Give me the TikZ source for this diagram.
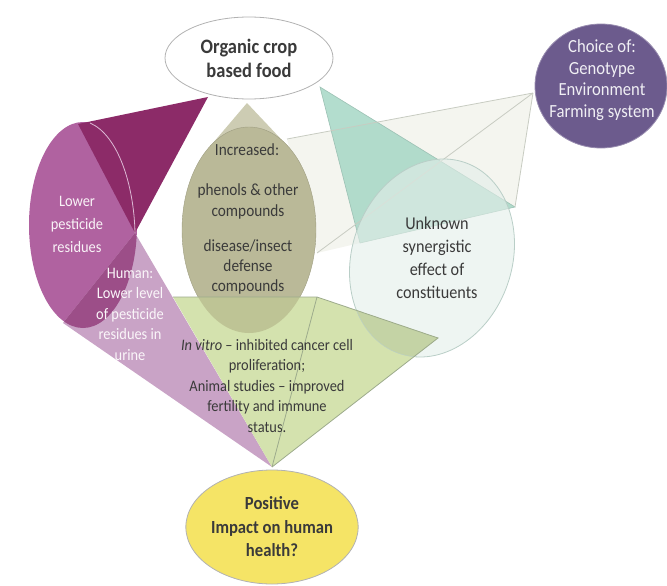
\documentclass[tikz,border=0pt]{standalone}
\usepackage{fontspec}
\setmainfont{Carlito}[FakeStretch=0.9]
\usepackage{xcolor}
\usepackage{tikz}
\usetikzlibrary{shapes.geometric}

\definecolor{magmid}{HTML}{B062A0}
\definecolor{magdark}{HTML}{8C2B68}
\definecolor{maglight}{HTML}{C9A3C6}
\definecolor{magover}{HTML}{9C4E88}
\definecolor{olivefill}{HTML}{BAB998}
\definecolor{olivelight}{HTML}{CDCCB3}
\definecolor{oliveleaf}{HTML}{BEC495}
\definecolor{tealfill}{HTML}{A6D7C5}
\definecolor{unkfill}{HTML}{E3EEE9}
\definecolor{unkline}{HTML}{B9CEC7}
\definecolor{unkleaf}{HTML}{C4D3A5}
\definecolor{palefill}{HTML}{F4F5EF}
\definecolor{paleline}{HTML}{C8CCC2}
\definecolor{leaf}{HTML}{D4E2AE}
\definecolor{leafline}{HTML}{9DAB8C}
\definecolor{choicefill}{HTML}{6C5B8D}
\definecolor{sunfill}{HTML}{F5E466}
\definecolor{ink}{HTML}{3A3A3A}

\begin{document}
\begin{tikzpicture}[x=1pt,y=-1pt,
  bubble/.style={ellipse,inner sep=0pt,draw=gray!60,line width=0.8pt},
  lbl/.style={align=center,text=ink}]
  \useasboundingbox (0,0) rectangle (667,586);

  % corner points of the cones
  \coordinate (choiceTip) at (533,93);
  \coordinate (oliveUp) at (287,139);
  \coordinate (oliveLow) at (317,253);
  \coordinate (unkRight) at (515,207);
  \coordinate (oliveTip) at (247,103);
  \coordinate (oliveL) at (210,146.5);
  \coordinate (oliveR) at (288,146.5);
  \coordinate (tealTip) at (320,87);
  \coordinate (tealLow) at (360,243);
  \coordinate (magTop) at (78,124);
  \coordinate (magTip) at (208,97);
  \coordinate (magMid) at (135,233);
  \coordinate (magLow) at (63,323);
  \coordinate (healthTip) at (272,467);
  \coordinate (leafA) at (173,297);
  \coordinate (leafB) at (317,297);
  \coordinate (leafC) at (438,338);

  % pale cone from the choice bubble
  \fill[palefill] (choiceTip) -- (oliveUp) -- (oliveLow) -- (unkRight) -- cycle;

  % olive drop
  \fill[olivelight] (oliveTip) -- (oliveL) -- (oliveR) -- cycle;
  \filldraw[fill=olivefill,draw=olivefill!85!black,line width=0.4pt]
    (249,230) ellipse [x radius=67,y radius=103];

  % teal cone and unknown bubble
  \filldraw[fill=tealfill,fill opacity=0.85,draw=tealfill!75!gray,line width=0.6pt]
    (tealTip) -- (unkRight) -- (tealLow) -- cycle;
  \draw[paleline,line width=0.8pt] (choiceTip) -- (oliveUp)
    (choiceTip) -- (oliveLow) (choiceTip) -- (unkRight);
  \filldraw[fill=unkfill,fill opacity=0.6,draw=unkline,line width=0.8pt,
    shift={(432,258)},rotate=-19] (0,0) ellipse [x radius=80,y radius=101];

  % magenta cone
  \fill[magmid] (83,225) ellipse [x radius=54,y radius=103];
  \fill[magdark] (magTop) -- (magTip) -- (magMid) -- cycle;
  \draw[magmid!45!white,line width=0.8pt]
    (90,123) .. controls (118,135) and (134,185) .. (magMid);
  \fill[maglight] (magMid) -- (magLow) -- (healthTip) -- cycle;
  \begin{scope}
    \clip (83,225) ellipse [x radius=54,y radius=103];
    \fill[magover] (magMid) -- (magLow) -- (healthTip) -- cycle;
  \end{scope}

  % green cone
  \fill[leaf] (leafA) -- (leafB) -- (leafC) -- (healthTip) -- cycle;
  \begin{scope}
    \clip (leafA) -- (leafB) -- (leafC) -- (healthTip) -- cycle;
    \fill[oliveleaf] (249,230) ellipse [x radius=67,y radius=103];
    \filldraw[fill=unkleaf,draw=unkline,shift={(432,258)},rotate=-19]
      (0,0) ellipse [x radius=80,y radius=101];
  \end{scope}
  \draw[leafline,line width=0.8pt] (leafA) -- (leafB) -- (leafC) -- (healthTip)
    (leafB) -- (healthTip);

  % bubbles
  \node[bubble,fill=white,minimum width=168,minimum height=82,lbl,
    font=\fontsize{20.5}{24}\selectfont\bfseries] (food) at (249,58)
    {Organic crop\\based food};
  \node[bubble,fill=choicefill,draw=choicefill!70!white,minimum width=132,
    minimum height=124] (choice) at (601,86) {};
  \node[align=center,text=white!90!choicefill,
    font=\fontsize{18.5}{21.5}\selectfont] (choicetxt) at (602,80)
    {Choice of:\\Genotype\\Environment\\Farming system};
  \node[bubble,fill=sunfill,minimum width=168,minimum height=114,lbl,
    font=\fontsize{18.5}{23.5}\selectfont\bfseries] (health) at (272,527)
    {Positive\\Impact on human\\health?};

  % texts
  \node[align=center,text=white!92!magmid,
    font=\fontsize{16}{23}\selectfont] (lower) at (77,224)
    {Lower\\pesticide\\residues};
  \node[align=center,text=white!90!maglight,
    font=\fontsize{16}{20.5}\selectfont] (human) at (130,314)
    {Human:\\Lower level\\of pesticide\\residues in\\urine};
  \node[lbl,font=\fontsize{17}{21}\selectfont] (incr) at (247,150) {Increased:};
  \node[lbl,font=\fontsize{17}{21}\selectfont] (phen) at (248,201)
    {phenols \& other\\compounds};
  \node[lbl,font=\fontsize{17}{20}\selectfont] (defn) at (248,267)
    {disease/insect\\defense\\compounds};
  \node[lbl,font=\fontsize{18}{23}\selectfont] (unk) at (437,258)
    {Unknown\\synergistic\\effect of\\constituents};
  \node[lbl,font=\fontsize{16}{20.5}\selectfont] (vitro) at (267,386)
    {\textit{In vitro} -- inhibited cancer cell\\proliferation;\\Animal studies -- improved\\fertility and immune\\status.};
\end{tikzpicture}
\end{document}
